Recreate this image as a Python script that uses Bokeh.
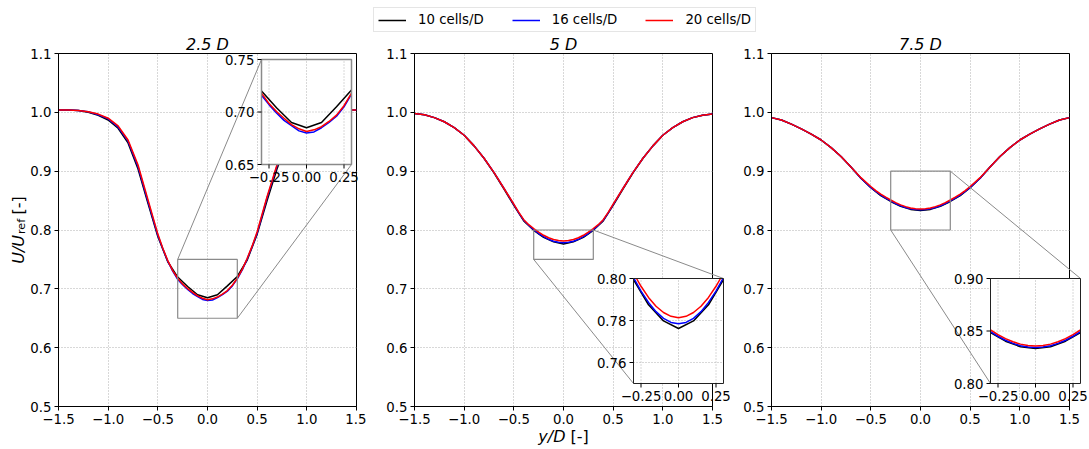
import math
from bokeh.plotting import figure
from bokeh.layouts import column, row
from bokeh.models import Range1d, Legend, LegendItem
from bokeh.core.properties import value
from bokeh.embed import file_html
from bokeh.resources import INLINE

FONT = "DejaVu Sans"

# ---------------- data ----------------
TITLES = ["2.5 D", "5 D", "7.5 D"]
SERIES = ["10 cells/D", "16 cells/D", "20 cells/D"]
COLORS = ["#000000", "#0000ff", "#ff0000"]

X_COARSE = [-1.5, -1.4, -1.3, -1.2, -1.1, -1.0, -0.9, -0.8, -0.7, -0.6, -0.5,
            -0.4, -0.3, -0.2, -0.1, 0.0, 0.1, 0.2, 0.3, 0.4, 0.5,
            0.6, 0.7, 0.8, 0.9, 1.0, 1.1, 1.2, 1.3, 1.4, 1.5]
X_FINE = [-1.5, -1.4, -1.3, -1.2, -1.1, -1.0, -0.9, -0.8, -0.7, -0.6,
          -0.5, -0.45, -0.4, -0.35, -0.3, -0.25, -0.2, -0.15, -0.1, -0.05, 0.0,
          0.05, 0.1, 0.15, 0.2, 0.25, 0.3, 0.35, 0.4, 0.45, 0.5,
          0.6, 0.7, 0.8, 0.9, 1.0, 1.1, 1.2, 1.3, 1.4, 1.5]

U10_25D = [1.004, 1.004, 1.003, 1.000, 0.995, 0.987, 0.973, 0.948, 0.904, 0.846, 0.789,
           0.746, 0.720, 0.704, 0.690, 0.685, 0.690, 0.705, 0.721, 0.749, 0.793,
           0.850, 0.904, 0.948, 0.973, 0.987, 0.995, 1.000, 1.003, 1.004, 1.004]
U16_25D = [1.004, 1.004, 1.003, 1.001, 0.996, 0.989, 0.975, 0.951, 0.908, 0.849,
           0.791, 0.768, 0.747, 0.730, 0.716, 0.707, 0.699, 0.692, 0.687, 0.682, 0.680,
           0.681, 0.685, 0.690, 0.696, 0.705, 0.717, 0.732, 0.751, 0.772, 0.795,
           0.855, 0.909, 0.952, 0.976, 0.989, 0.996, 1.001, 1.003, 1.004, 1.004]
U20_25D = [1.004, 1.004, 1.003, 1.001, 0.997, 0.990, 0.977, 0.953, 0.911, 0.852,
           0.793, 0.769, 0.748, 0.731, 0.718, 0.708, 0.7005, 0.694, 0.688, 0.684, 0.6815,
           0.683, 0.686, 0.691, 0.697, 0.706, 0.718, 0.733, 0.752, 0.773, 0.797,
           0.857, 0.911, 0.953, 0.977, 0.990, 0.997, 1.001, 1.003, 1.004, 1.004]

U10_5D = [0.998, 0.996, 0.991, 0.984, 0.974, 0.961, 0.943, 0.922, 0.897, 0.870, 0.842,
          0.8155, 0.7995, 0.7875, 0.7798, 0.7762, 0.7798, 0.7875, 0.7995, 0.8155, 0.842,
          0.870, 0.897, 0.922, 0.943, 0.961, 0.974, 0.984, 0.991, 0.995, 0.997]
U16_5D = [0.998, 0.996, 0.991, 0.984, 0.974, 0.961, 0.943, 0.922, 0.898, 0.871,
          0.843, 0.829, 0.8165, 0.808, 0.8005, 0.794, 0.7886, 0.7842, 0.781, 0.7791, 0.7784,
          0.7791, 0.781, 0.7842, 0.7886, 0.794, 0.8005, 0.808, 0.8165, 0.829, 0.843,
          0.871, 0.898, 0.922, 0.943, 0.961, 0.974, 0.984, 0.991, 0.995, 0.997]
U20_5D = [0.998, 0.996, 0.991, 0.984, 0.974, 0.961, 0.943, 0.922, 0.898, 0.871,
          0.844, 0.830, 0.8175, 0.809, 0.8025, 0.7963, 0.791, 0.7868, 0.7838, 0.782, 0.7813,
          0.782, 0.7838, 0.7868, 0.791, 0.7963, 0.8025, 0.809, 0.8175, 0.830, 0.844,
          0.871, 0.898, 0.922, 0.943, 0.961, 0.974, 0.984, 0.991, 0.995, 0.997]

U10_75D = [0.991, 0.987, 0.980, 0.972, 0.963, 0.953, 0.940, 0.925, 0.907, 0.888, 0.872,
           0.8585, 0.8485, 0.8403, 0.835, 0.8333, 0.835, 0.8403, 0.8485, 0.8585, 0.872,
           0.888, 0.907, 0.925, 0.940, 0.953, 0.963, 0.972, 0.980, 0.987, 0.991]
U16_75D = [0.991, 0.987, 0.980, 0.972, 0.963, 0.953, 0.940, 0.925, 0.907, 0.888,
           0.8725, 0.8657, 0.8595, 0.8543, 0.8495, 0.845, 0.8412, 0.8382, 0.836, 0.8347, 0.8343,
           0.8347, 0.836, 0.8382, 0.8412, 0.845, 0.8495, 0.8543, 0.8595, 0.8657, 0.8725,
           0.888, 0.907, 0.925, 0.940, 0.953, 0.963, 0.972, 0.980, 0.987, 0.991]
U20_75D = [0.991, 0.987, 0.980, 0.972, 0.963, 0.953, 0.940, 0.925, 0.907, 0.889,
           0.874, 0.867, 0.861, 0.8558, 0.851, 0.8465, 0.8427, 0.8397, 0.8375, 0.8362, 0.8358,
           0.8362, 0.8375, 0.8397, 0.8427, 0.8465, 0.851, 0.8558, 0.861, 0.867, 0.874,
           0.889, 0.907, 0.925, 0.940, 0.953, 0.963, 0.972, 0.980, 0.987, 0.991]

PANEL_SERIES = [
    [(X_COARSE, U10_25D), (X_FINE, U16_25D), (X_FINE, U20_25D)],
    [(X_COARSE, U10_5D), (X_FINE, U16_5D), (X_FINE, U20_5D)],
    [(X_COARSE, U10_75D), (X_FINE, U16_75D), (X_FINE, U20_75D)],
]

XLIM = (-1.5, 1.5)
YLIM = (0.5, 1.1)
X_TICKS = [-1.5, -1.0, -0.5, 0.0, 0.5, 1.0, 1.5]
X_TICK_LABELS = ["\u22121.5", "\u22121.0", "\u22120.5", "0.0", "0.5", "1.0", "1.5"]
Y_TICKS = [0.5, 0.6, 0.7, 0.8, 0.9, 1.0, 1.1]
Y_TICK_LABELS = ["0.5", "0.6", "0.7", "0.8", "0.9", "1.0", "1.1"]

INSET_XLIM = (-0.3, 0.3)
INSET_X_TICKS = [-0.25, 0.0, 0.25]
INSET_X_TICK_LABELS = ["\u22120.25", "0.00", "0.25"]
INSET_YLIMS = [(0.65, 0.75), (0.75, 0.80), (0.80, 0.90)]
INSET_Y_TICKS = [[0.65, 0.70, 0.75], [0.76, 0.78, 0.80], [0.80, 0.85, 0.90]]
INSET_Y_TICK_LABELS = [["0.65", "0.70", "0.75"], ["0.76", "0.78", "0.80"], ["0.80", "0.85", "0.90"]]

# ---------------- layout / style ----------------
LEG_H = 32
FIG_H = 449 - LEG_H
FRAME_W = 298
FRAME_H = 353
BORDER_T = 21
FIG_W = [366, 364, 359]
BORDER_L = [58, 48, 41]
INSET_OFF = [(203, 6), (219, 225), (219, 225)]   # px from frame top-left
INSET_W, INSET_H = 90, 105
INSET_EDGE = ["#8a8a8a", "#222222", "#222222"]
INSET_EDGE_W = [1.5, 1.0, 1.0]
CONNECT = [[(0, 1), (1, 0)], [(1, 1), (0, 0)], [(1, 1), (0, 0)]]
GRID_COLOR = "#b0b0b0"
GRID_DASH = "1 2"
TICK_FS = "13.3px"
LABEL_FS = "16px"
LW = 1.5
TICK_LEN = 4
TICK_GAP = 3


def x_at(px):
    return XLIM[0] + px / FRAME_W * (XLIM[1] - XLIM[0])


def y_at(py):
    return YLIM[1] - py / FRAME_H * (YLIM[1] - YLIM[0])


def clip_polyline(xs, ys, x0, x1, y0, y1):
    parts, cur = [], []
    for i in range(len(xs) - 1):
        ax, ay, bx, by = xs[i], ys[i], xs[i + 1], ys[i + 1]
        dx, dy = bx - ax, by - ay
        t0, t1, ok = 0.0, 1.0, True
        for pp, qq in ((-dx, ax - x0), (dx, x1 - ax), (-dy, ay - y0), (dy, y1 - ay)):
            if pp == 0:
                if qq < 0:
                    ok = False
                    break
            else:
                t = qq / pp
                if pp < 0:
                    if t > t1:
                        ok = False
                        break
                    t0 = max(t0, t)
                else:
                    if t < t0:
                        ok = False
                        break
                    t1 = min(t1, t)
        if not ok:
            if cur:
                parts.append(cur)
                cur = []
            continue
        start = (ax + t0 * dx, ay + t0 * dy)
        end = (ax + t1 * dx, ay + t1 * dy)
        if cur and t0 > 0:
            parts.append(cur)
            cur = []
        if not cur:
            cur = [start]
        cur.append(end)
        if t1 < 1:
            parts.append(cur)
            cur = []
    if cur:
        parts.append(cur)
    return [[p[0] for p in part] for part in parts], [[p[1] for p in part] for part in parts]


def style_axes(p):
    p.xaxis.ticker = X_TICKS
    p.yaxis.ticker = Y_TICKS
    p.xaxis.major_label_overrides = {t: s for t, s in zip(X_TICKS, X_TICK_LABELS)}
    p.yaxis.major_label_overrides = {t: s for t, s in zip(Y_TICKS, Y_TICK_LABELS)}
    for ax in (p.xaxis[0], p.yaxis[0]):
        ax.major_label_text_font = FONT
        ax.major_label_text_font_size = TICK_FS
        ax.major_label_text_color = "black"
        ax.major_tick_in = 0
        ax.major_tick_out = TICK_LEN
        ax.major_tick_line_color = "black"
        ax.minor_tick_line_color = None
        ax.major_label_standoff = TICK_GAP
        ax.axis_line_color = "black"
    p.grid.grid_line_color = GRID_COLOR
    p.grid.grid_line_dash = GRID_DASH
    p.grid.grid_line_width = 1


def add_inset(p, k):
    ylo, yhi = INSET_YLIMS[k]
    xlo, xhi = INSET_XLIM
    ox, oy = INSET_OFF[k]
    bx0, bx1 = x_at(ox), x_at(ox + INSET_W)
    by1, by0 = y_at(oy), y_at(oy + INSET_H)

    # zoomed region + connectors in the main axes
    p.quad(left=xlo, right=xhi, bottom=ylo, top=yhi,
           fill_color=None, line_color="#8a8a8a", line_width=1.2)
    x0s, y0s, x1s, y1s = [], [], [], []
    for (i, j) in CONNECT[k]:
        x0s.append((xlo, xhi)[i])
        y0s.append((ylo, yhi)[j])
        x1s.append((bx0, bx1)[i])
        y1s.append((by0, by1)[j])
    p.segment(x0=x0s, y0=y0s, x1=x1s, y1=y1s, line_color="#8a8a8a", line_width=1, level="overlay")

    xy = p.subplot(x_source=Range1d(xlo, xhi), y_source=Range1d(ylo, yhi),
                   x_target=Range1d(bx0, bx1), y_target=Range1d(by0, by1))
    xy.quad(left=xlo, right=xhi, bottom=ylo, top=yhi, fill_color="white",
            line_color=None, level="overlay")
    yt = INSET_Y_TICKS[k]
    xy.segment(x0=INSET_X_TICKS, y0=[ylo] * len(INSET_X_TICKS), x1=INSET_X_TICKS,
               y1=[yhi] * len(INSET_X_TICKS), line_color=GRID_COLOR, line_dash=GRID_DASH,
               line_width=1, level="overlay")
    xy.segment(x0=[xlo] * len(yt), y0=yt, x1=[xhi] * len(yt), y1=yt,
               line_color=GRID_COLOR, line_dash=GRID_DASH, line_width=1, level="overlay")
    for (xs, ys), c in zip(PANEL_SERIES[k], COLORS):
        cx, cy = clip_polyline(xs, ys, xlo, xhi, ylo, yhi)
        xy.multi_line(xs=cx, ys=cy, line_color=c, line_width=LW, level="overlay")
    xy.quad(left=xlo, right=xhi, bottom=ylo, top=yhi, fill_color=None,
            line_color=INSET_EDGE[k], line_width=INSET_EDGE_W[k], level="overlay")
    # ticks (length in px converted to inset data units)
    dy = TICK_LEN * (yhi - ylo) / INSET_H
    dx = TICK_LEN * (xhi - xlo) / INSET_W
    xy.segment(x0=INSET_X_TICKS, y0=[ylo] * len(INSET_X_TICKS), x1=INSET_X_TICKS,
               y1=[ylo - dy] * len(INSET_X_TICKS), line_color="black", line_width=1, level="overlay")
    xy.segment(x0=[xlo] * len(yt), y0=yt, x1=[xlo - dx] * len(yt), y1=yt,
               line_color="black", line_width=1, level="overlay")
    xy.text(x=INSET_X_TICKS, y=[ylo] * len(INSET_X_TICKS), text=INSET_X_TICK_LABELS,
            y_offset=TICK_LEN + TICK_GAP, text_align="center", text_baseline="top",
            text_font=value(FONT), text_font_size=TICK_FS, text_color="black", level="overlay")
    xy.text(x=[xlo] * len(yt), y=yt, text=INSET_Y_TICK_LABELS[k],
            x_offset=-(TICK_LEN + TICK_GAP), text_align="right", text_baseline="middle",
            text_font=value(FONT), text_font_size=TICK_FS, text_color="black", level="overlay")


mains = []
for k in range(3):
    p = figure(width=FIG_W[k], height=FIG_H, x_range=Range1d(*XLIM), y_range=Range1d(*YLIM),
               output_backend="svg", toolbar_location=None,
               min_border_left=BORDER_L[k], min_border_right=FIG_W[k] - BORDER_L[k] - FRAME_W,
               min_border_top=BORDER_T, min_border_bottom=FIG_H - BORDER_T - FRAME_H,
               title=TITLES[k], background_fill_color="white", border_fill_color="white",
               outline_line_color="black", outline_line_width=1, outline_line_alpha=1)
    p.title.align = "center"
    p.title.text_font = FONT
    p.title.text_font_style = "italic"
    p.title.text_font_size = LABEL_FS
    p.title.text_color = "black"
    p.title.standoff = 0
    style_axes(p)
    for (xs, ys), c in zip(PANEL_SERIES[k], COLORS):
        p.line(xs, ys, line_color=c, line_width=LW)
    add_inset(p, k)
    mains.append(p)

# y label  U/U_ref [-]  (panel 1)
ymid = (YLIM[0] + YLIM[1]) / 2
p1 = mains[0]
p1.text(x=[XLIM[0]], y=[ymid], text=["U/U"], x_offset=-40.5, y_offset=5, angle=math.pi / 2,
        text_align="right", text_baseline="middle", text_font=value(FONT),
        text_font_size=LABEL_FS, text_font_style="italic", text_color="black", level="overlay")
p1.text(x=[XLIM[0]], y=[ymid], text=["ref"], x_offset=-37, y_offset=4, angle=math.pi / 2,
        text_align="left", text_baseline="middle", text_font=value(FONT),
        text_font_size="11.2px", text_color="black", level="overlay")
p1.text(x=[XLIM[0]], y=[ymid], text=["[-]"], x_offset=-40.5, y_offset=-15.5, angle=math.pi / 2,
        text_align="left", text_baseline="middle", text_font=value(FONT),
        text_font_size=LABEL_FS, text_color="black", level="overlay")

# x label  y/D [-]  (panel 2)
xmid = (XLIM[0] + XLIM[1]) / 2
p2 = mains[1]
p2.text(x=[xmid], y=[YLIM[0]], text=["y/D"], x_offset=2, y_offset=30,
        text_align="right", text_baseline="middle", text_font=value(FONT),
        text_font_size=LABEL_FS, text_font_style="italic", text_color="black", level="overlay")
p2.text(x=[xmid], y=[YLIM[0]], text=["[-]"], x_offset=7, y_offset=30,
        text_align="left", text_baseline="middle", text_font=value(FONT),
        text_font_size=LABEL_FS, text_color="black", level="overlay")

# legend strip on top
lg = figure(width=sum(FIG_W), height=LEG_H, x_range=Range1d(10, 11), y_range=Range1d(10, 11),
            x_axis_type=None, y_axis_type=None, toolbar_location=None, output_backend="svg",
            min_border=0, outline_line_color=None, background_fill_color="white",
            border_fill_color="white")
items = []
for (xs, ys), c, name in zip(PANEL_SERIES[0], COLORS, SERIES):
    r = lg.line(xs, ys, line_color=c, line_width=LW)
    items.append(LegendItem(label=name, renderers=[r]))
legend = Legend(items=items, location=(373, 0), orientation="horizontal", margin=0,
                padding=4, spacing=28, glyph_width=28, glyph_height=14, label_standoff=12,
                label_height=14, label_text_font=FONT, label_text_font_size=TICK_FS,
                label_text_color="black", border_line_color="#cccccc", border_line_width=1,
                background_fill_color="white", background_fill_alpha=1)
lg.add_layout(legend)

root = column(lg, row(*mains, spacing=0), spacing=0)

open("out.html", "w").write(file_html(root, INLINE))
